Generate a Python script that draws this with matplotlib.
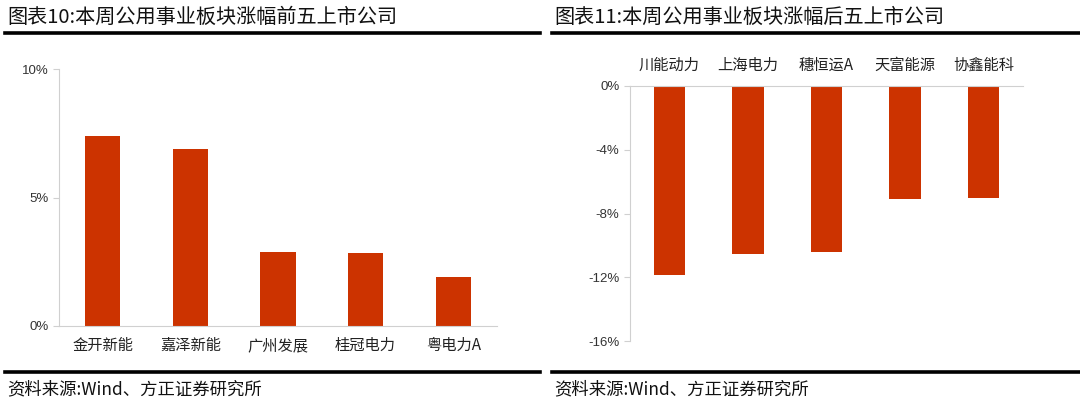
import matplotlib.pyplot as plt
from matplotlib.lines import Line2D
from matplotlib.ticker import FuncFormatter

plt.rcParams['font.family'] = ['Noto Sans CJK SC', 'DejaVu Sans']

# Data (percent)
top_names = ['金开新能', '嘉泽新能', '广州发展', '桂冠电力', '粤电力A']
top_values = [7.40, 6.87, 2.89, 2.84, 1.89]
bottom_names = ['川能动力', '上海电力', '穗恒运A', '天富能源', '协鑫能科']
bottom_values = [-11.87, -10.53, -10.43, -7.08, -7.02]

left_title = '图表10:本周公用事业板块涨幅前五上市公司'
right_title = '图表11:本周公用事业板块涨幅后五上市公司'
source_text = '资料来源:Wind、方正证券研究所'

BAR_COLOR = '#CC3300'
W, H = 1080, 404


def px_box(x0, x1, ytop, ybot):
    """Convert a pixel box (top-left origin) to figure fraction rect"""
    return [x0 / W, 1 - ybot / H, (x1 - x0) / W, (ybot - ytop) / H]


def style_axis(ax):
    for side in ['top', 'right']:
        ax.spines[side].set_visible(False)
    ax.spines['left'].set_color('#d0d0d0')
    ax.spines['bottom'].set_color('#d0d0d0')
    ax.tick_params(axis='y', colors='#d0d0d0', labelcolor='#333333', length=4,
                   labelsize=9.5)
    ax.tick_params(axis='x', length=0, labelsize=11, labelcolor='#222222')
    ax.yaxis.set_major_formatter(FuncFormatter(lambda v, p: f'{v:.0f}%'))
    for lab in ax.get_yticklabels():
        lab.set_family(['Liberation Sans', 'DejaVu Sans'])


fig = plt.figure(figsize=(W / 100, H / 100), dpi=100)

# Left chart: top five gainers
ax1 = fig.add_axes(px_box(59, 497, 69, 326))
ax1.bar(range(len(top_names)), top_values, width=0.4, color=BAR_COLOR)
ax1.set_xlim(-0.5, len(top_names) - 0.5)
ax1.set_ylim(0, 10)
ax1.set_yticks([0, 5, 10])
ax1.set_xticks(range(len(top_names)))
ax1.set_xticklabels(top_names)
style_axis(ax1)
ax1.tick_params(axis='x', pad=8)

# Right chart: bottom five
ax2 = fig.add_axes(px_box(630, 1023, 86, 341))
ax2.bar(range(len(bottom_names)), bottom_values, width=0.4, color=BAR_COLOR)
ax2.set_xlim(-0.5, len(bottom_names) - 0.5)
ax2.set_ylim(-16, 0)
ax2.set_yticks([0, -4, -8, -12, -16])
ax2.set_xticks(range(len(bottom_names)))
ax2.set_xticklabels(bottom_names)
style_axis(ax2)
ax2.xaxis.tick_top()
ax2.spines['top'].set_visible(True)
ax2.spines['top'].set_color('#d0d0d0')
ax2.spines['bottom'].set_visible(False)
ax2.tick_params(axis='x', pad=9)

# Titles, rules and source lines
for x0, x1, title in [(5, 540, left_title), (552, 1080, right_title)]:
    fig.text((x0 + 2) / W, 1 - 17 / H, title, fontsize=14.5, fontweight='medium',
             va='center', ha='left', color='#111111')
    fig.text((x0 + 2) / W, 1 - 389 / H, source_text, fontsize=12.5,
             va='center', ha='left', color='#111111')
    for y in (33, 372):
        fig.add_artist(Line2D([x0 / W, x1 / W], [1 - y / H, 1 - y / H],
                              color='black', linewidth=2.6))

fig.savefig('out.png', dpi=100)
